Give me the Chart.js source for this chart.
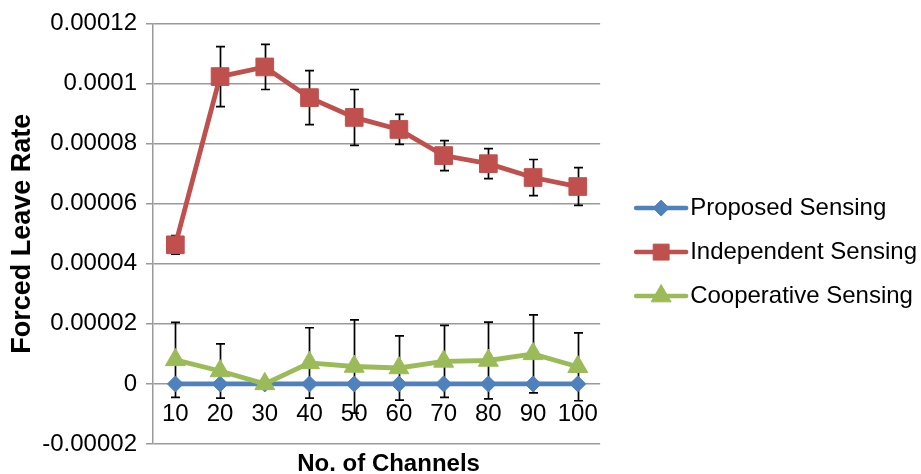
<!DOCTYPE html>
<html>
<head>
<meta charset="utf-8">
<script src="https://cdn.jsdelivr.net/npm/chart.js@4/dist/chart.umd.min.js"></script>
<style>
html,body{margin:0;padding:0;background:#fff;}
#wrap{width:921px;height:474px;position:relative;}
</style>
</head>
<body>
<div id="wrap"><canvas id="c" width="921" height="474"></canvas></div>
<script>
// ---- data ----
const categories = ['10','20','30','40','50','60','70','80','90','100'];
const proposed = [0,0,0,0,0,0,0,0,0,0];
const independent = [0.0000463,0.0001023,0.0001055,0.0000953,0.0000887,0.0000847,0.0000760,0.0000733,0.0000687,0.0000657];
const independentErr = [0.0000031,0.0000100,0.0000075,0.0000090,0.0000093,0.0000050,0.0000050,0.0000050,0.0000060,0.0000063];
const cooperative = [0.0000080,0.0000043,0,0.0000070,0.0000058,0.0000053,0.0000075,0.0000078,0.0000100,0.0000057];
const cooperativeErr = [0.0000125,0.0000090,0,0.0000117,0.0000155,0.0000107,0.0000120,0.0000128,0.0000130,0.0000113];
const yTickLabels = ['-0.00002','0','0.00002','0.00004','0.00006','0.00008','0.0001','0.00012'];
const seriesNames = ['Proposed Sensing','Independent Sensing','Cooperative Sensing'];

const FONT = "'Liberation Sans', Arial, sans-serif";
const colors = ['#4F81BD','#C0504D','#9BBB59'];
const markers = ['rectRot','rect','triangle'];
const markerRadius = [8, 12.5, 11.5];
const errs = [null, independentErr, cooperativeErr];

function drawMarker(ctx, style, x, y, r, color){
  ctx.save();
  ctx.fillStyle = color; ctx.strokeStyle = color; ctx.lineWidth = 1;
  ctx.beginPath();
  if (style === 'rectRot') {
    ctx.moveTo(x, y - r); ctx.lineTo(x + r, y); ctx.lineTo(x, y + r); ctx.lineTo(x - r, y); ctx.closePath();
  } else if (style === 'rect') {
    const s = r * Math.SQRT1_2; ctx.rect(x - s, y - s, 2 * s, 2 * s);
  } else {
    ctx.moveTo(x, y - r); ctx.lineTo(x + r * 0.866, y + r / 2); ctx.lineTo(x - r * 0.866, y + r / 2); ctx.closePath();
  }
  ctx.fill(); ctx.stroke();
  ctx.restore();
}

const errorBars = {
  id: 'errorBars',
  beforeDatasetsDraw(chart){
    const {ctx, scales:{x, y}} = chart;
    ctx.save();
    ctx.strokeStyle = '#000'; ctx.lineWidth = 1.7;
    const sets = [proposed, independent, cooperative];
    sets.forEach((vals, di) => {
      const e = errs[di]; if (!e) return;
      vals.forEach((v, i) => {
        if (!e[i]) return;
        const px = Math.round(x.getPixelForValue(i)) + 0.5;
        const yt = y.getPixelForValue(v + e[i]);
        const yb = y.getPixelForValue(v - e[i]);
        ctx.beginPath();
        ctx.moveTo(px, yt); ctx.lineTo(px, yb);
        ctx.moveTo(px - 4.5, yt); ctx.lineTo(px + 4.5, yt);
        ctx.moveTo(px - 4.5, yb); ctx.lineTo(px + 4.5, yb);
        ctx.stroke();
      });
    });
    ctx.restore();
  }
};

const legendMarks = {
  id: 'legendMarks',
  afterDraw(chart){
    const lg = chart.legend; if (!lg || !lg.legendHitBoxes) return;
    const ctx = chart.ctx;
    lg.legendItems.forEach((item, k) => {
      const hb = lg.legendHitBoxes[k];
      const di = item.datasetIndex;
      const cy = hb.top + hb.height / 2;
      ctx.save();
      ctx.strokeStyle = colors[di]; ctx.lineWidth = 4.5; ctx.lineCap = 'round';
      ctx.beginPath(); ctx.moveTo(hb.left + 16, cy); ctx.lineTo(hb.left + 66, cy); ctx.stroke();
      ctx.restore();
      drawMarker(ctx, markers[di], hb.left + 41, cy, markerRadius[di] * (di === 1 ? 0.9 : 1), colors[di]);
    });
  }
};

const xTitle = {
  id: 'xTitle',
  afterDraw(chart){
    const {ctx, chartArea} = chart;
    ctx.save();
    ctx.font = "bold 24px " + FONT;
    ctx.fillStyle = '#000'; ctx.textAlign = 'center'; ctx.textBaseline = 'alphabetic';
    ctx.fillText('No. of Channels', (chartArea.left + chartArea.right) / 2 + 12, 471);
    ctx.restore();
  }
};

const values = [proposed, independent, cooperative];
const datasets = values.map((vals, i) => ({
  label: seriesNames[i],
  data: vals,
  borderColor: colors[i],
  backgroundColor: colors[i],
  borderWidth: 4.8,
  pointStyle: markers[i],
  pointRadius: markerRadius[i],
  pointHoverRadius: markerRadius[i],
  pointBackgroundColor: colors[i],
  pointBorderColor: colors[i],
  pointBorderWidth: 1,
  tension: 0,
  fill: false,
  order: 3 - i
}));

new Chart(document.getElementById('c'), {
  type: 'line',
  data: { labels: categories, datasets },
  options: {
    responsive: false,
    animation: false,
    devicePixelRatio: 1,
    layout: { padding: { top: 23, bottom: 30, left: 0, right: -6 } },
    scales: {
      x: {
        type: 'category',
        offset: true,
        position: { y: 0 },
        grid: { display: false, drawTicks: false },
        border: { display: false },
        ticks: { color: '#000', font: { family: FONT, size: 24 }, padding: 16, maxRotation: 0, autoSkip: false }
      },
      y: {
        min: -0.00002, max: 0.00012,
        ticks: {
          stepSize: 0.00002, color: '#000', padding: 9,
          font: { family: FONT, size: 24 },
          callback: (v, i) => yTickLabels[i]
        },
        grid: { color: '#9a9a9a', lineWidth: 1.5, tickLength: 7, drawTicks: true },
        border: { color: '#9a9a9a', width: 1.5 },
        title: { display: true, text: 'Forced Leave Rate', color: '#000', font: { family: FONT, size: 27, weight: 'bold' }, padding: { top: 6, bottom: 0 } },
        afterFit(scale){ scale.width = 153; }
      }
    },
    plugins: {
      tooltip: { enabled: false },
      legend: {
        position: 'right',
        maxWidth: 400,
        title: { display: true, text: '', font: { size: 1 }, padding: { top: 36, bottom: 0 } },
        labels: {
          color: '#000',
          font: { family: FONT, size: 24 },
          boxWidth: 58,
          padding: 20,
          sort: (a, b) => a.datasetIndex - b.datasetIndex,
          generateLabels(chart){
            const items = Chart.defaults.plugins.legend.labels.generateLabels(chart);
            items.forEach(it => { it.fillStyle = 'rgba(0,0,0,0)'; it.strokeStyle = 'rgba(0,0,0,0)'; it.lineWidth = 0; it.pointStyle = undefined; });
            return items;
          }
        }
      }
    }
  },
  plugins: [errorBars, legendMarks, xTitle]
});
</script>
</body>
</html>
